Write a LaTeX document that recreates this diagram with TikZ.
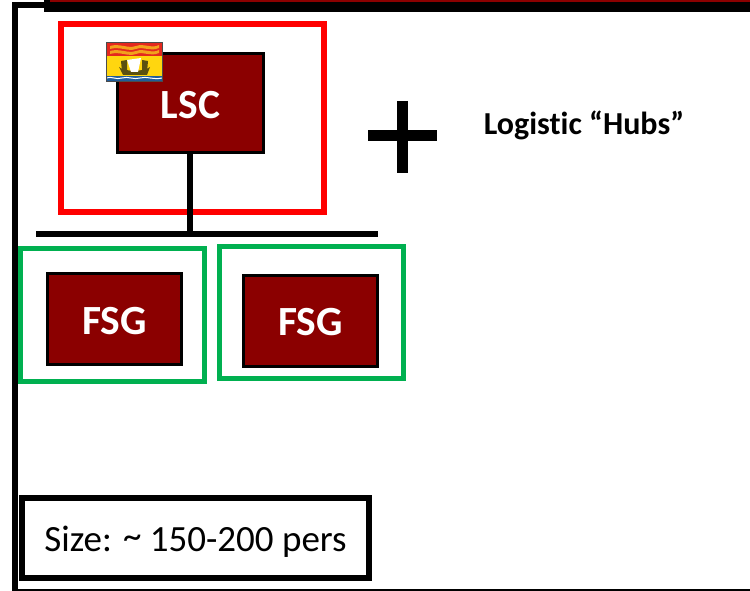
\documentclass[tikz,border=0pt]{standalone}
\usepackage{fontspec}
\setmainfont[Ligatures={NoCommon}]{Carlito}
\definecolor{unitred}{HTML}{8B0000}
\definecolor{frred}{HTML}{FF0000}
\definecolor{frgreen}{HTML}{00B050}
\definecolor{flagred}{HTML}{E4281E}
\definecolor{flagyel}{HTML}{FFD60F}
\definecolor{flagorg}{HTML}{F2A11C}
\definecolor{flagblue}{HTML}{1F5C9A}
\definecolor{shipdk}{HTML}{5A5010}
\tikzset{
  x=1pt,y=-1pt,
  unitbox/.style={draw=black,line width=2.2pt,fill=unitred,text=white,font=\bfseries\fontsize{41.5}{41.5}\selectfont,inner sep=0pt,anchor=center},
  redframe/.style={draw=frred,line width=6pt,inner sep=0pt},
  greenframe/.style={draw=frgreen,line width=5.5pt,inner sep=0pt},
  heavy/.style={draw=black,line width=5.5pt},
  plusbar/.style={draw=black,line width=11pt,line cap=butt}
}
\begin{document}
\begin{tikzpicture}
\useasboundingbox (0,0) rectangle (750,591);
% outer frame and top band
\draw[black,line width=6pt] (44,5.5) -- (14.5,5.5) -- (14.5,591);
\draw[black,line width=2pt] (14.5,589.5) -- (750,589.5);
\fill[black] (44,0) rectangle (750,12.5);
\fill[unitred] (50,0) rectangle (750,2);
% frames
\node[redframe,minimum width=263pt,minimum height=187pt] (fr) at (192,118) {};
\node[greenframe,minimum width=184pt,minimum height=133pt] (g1) at (112.5,315) {};
\node[greenframe,minimum width=184pt,minimum height=132pt] (g2) at (311.5,312.5) {};
% units
\node[unitbox,minimum width=146pt,minimum height=99pt] (lsc) at (190.5,103) {\rule{0pt}{31pt}LSC};
\node[unitbox,minimum width=134pt,minimum height=91pt] (f1) at (114.5,319) {\rule{0pt}{31pt}FSG};
\node[unitbox,minimum width=134pt,minimum height=91pt] (f2) at (310.5,321) {\rule{0pt}{30pt}FSG};
% connectors
\coordinate (busl) at (36,234);
\coordinate (busr) at (378,234);
\coordinate (busm) at (190,234);
\draw[heavy] (busl) -- (busr);
\draw[heavy] (lsc.south -| busm) -- (busm);
% plus
\coordinate (pl) at (368,136);
\coordinate (pr) at (437,136);
\coordinate (pt) at (402,101);
\coordinate (pb) at (402,173);
\draw[plusbar] (pl) -- (pr);
\draw[plusbar] (pt) -- (pb);
% label
\node[anchor=center,font=\bfseries\fontsize{32}{32}\selectfont,inner sep=0pt] (hubs) at (584,125) {Logistic “Hubs”};
% size box
\node[draw=black,line width=6.5pt,minimum width=347pt,minimum height=80pt,inner sep=0pt,font=\fontsize{37}{37}\selectfont] (size) at (195.5,538) {\rule{0pt}{33pt}Size: \raisebox{3pt}{\char"7E}\ 150-200 pers};
% flag
\fill[flagyel] (106,43) rectangle (162,82);
\fill[flagred] (106,43) rectangle (162,56);
\foreach \yy in {46,51}{
  \fill[flagorg] (110,\yy) .. controls (120,\yy-3) and (128,\yy+3) .. (136,\yy) .. controls (144,\yy-3) and (152,\yy+3) .. (159,\yy-1) -- (159,\yy+2) .. controls (150,\yy+6) and (144,\yy) .. (136,\yy+3) .. controls (128,\yy+6) and (120,\yy) .. (110,\yy+3) -- cycle;
}
\fill[shipdk] (119,67) .. controls (124,72) and (144,72) .. (150,67) -- (147,75) -- (123,75) -- cycle;
\fill[shipdk] (121,61) -- (127,60) -- (127,72) -- (122,72) -- cycle;
\fill[shipdk] (142,60) -- (148,61) -- (147,72) -- (142,72) -- cycle;
\fill[white] (127,60) -- (141,58) -- (138,72) -- (131,72) -- cycle;
\fill[flagblue] (106,76) rectangle (162,82);
\draw[white,line width=1pt] (106,78) .. controls (112,76) and (116,80) .. (122,78) .. controls (128,76) and (134,80) .. (140,78) .. controls (146,76) and (154,80) .. (162,78);
\draw[black!70,line width=1pt] (106,43) rectangle (162,82);
\end{tikzpicture}
\end{document}
